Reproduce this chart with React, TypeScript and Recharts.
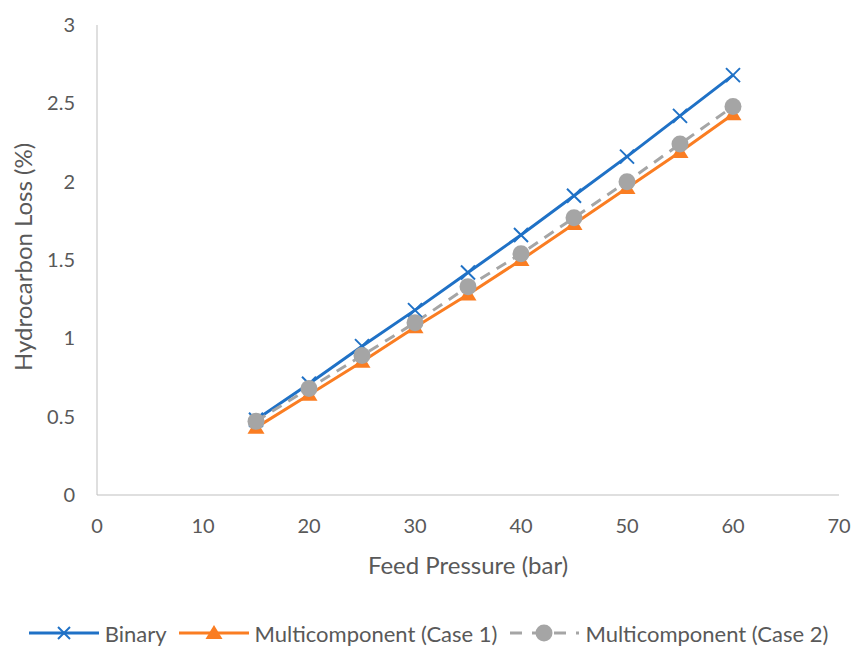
import React from 'react';
import { LineChart, Line, XAxis, YAxis, Legend } from 'recharts';

// Feed pressure (bar) at which each case was evaluated
const pressure = [15, 20, 25, 30, 35, 40, 45, 50, 55, 60];

// Hydrocarbon loss (%) per case
const binary = [0.48, 0.71, 0.95, 1.18, 1.42, 1.66, 1.91, 2.16, 2.42, 2.68];
const case1 = [0.43, 0.64, 0.85, 1.07, 1.28, 1.5, 1.73, 1.96, 2.19, 2.43];
const case2 = [0.47, 0.68, 0.89, 1.1, 1.33, 1.54, 1.77, 2.0, 2.24, 2.48];

const xTicks = [0, 10, 20, 30, 40, 50, 60, 70];
const yTicks = [0, 0.5, 1, 1.5, 2, 2.5, 3];

const seriesNames = ['Binary', 'Multicomponent (Case 1)', 'Multicomponent (Case 2)'];
const xTitle = 'Feed Pressure (bar)';
const yTitle = 'Hydrocarbon Loss (%)';

const BLUE = '#1F71C6';
const ORANGE = '#FA7D22';
const GREY = '#A5A5A5';
const TEXT = '#595959';
const AXIS = '#BFBFBF';
const FONT = 'Lato, "Open Sans", sans-serif';

const data = pressure.map((p, i) => ({
  pressure: p,
  binary: binary[i],
  case1: case1[i],
  case2: case2[i],
}));

const CrossMark = ({ cx, cy, size = 7 }: any) => (
  <g stroke={BLUE} strokeWidth={2}>
    <line x1={cx - size} y1={cy - size} x2={cx + size} y2={cy + size} />
    <line x1={cx - size} y1={cy + size} x2={cx + size} y2={cy - size} />
  </g>
);

const TriangleMark = ({ cx, cy }: any) => (
  <polygon
    points={`${cx},${cy - 8} ${cx + 8.5},${cy + 6} ${cx - 8.5},${cy + 6}`}
    fill={ORANGE}
  />
);

const CircleMark = ({ cx, cy }: any) => <circle cx={cx} cy={cy} r={8.5} fill={GREY} />;

const renderCross = (props: any) =>
  props.cx == null ? null : <CrossMark key={`b-${props.index}`} cx={props.cx} cy={props.cy} />;
const renderTriangle = (props: any) =>
  props.cx == null ? null : <TriangleMark key={`c1-${props.index}`} cx={props.cx} cy={props.cy} />;
const renderCircle = (props: any) =>
  props.cx == null ? null : <CircleMark key={`c2-${props.index}`} cx={props.cx} cy={props.cy} />;

const LegendIcon = ({ kind }: { kind: number }) => (
  <svg width={70} height={22} style={{ display: 'block' }}>
    {kind === 0 && (
      <>
        <line x1={0} y1={11} x2={70} y2={11} stroke={BLUE} strokeWidth={3} />
        <CrossMark cx={35} cy={11} size={6} />
      </>
    )}
    {kind === 1 && (
      <>
        <line x1={0} y1={11} x2={70} y2={11} stroke={ORANGE} strokeWidth={3} />
        <TriangleMark cx={35} cy={11} />
      </>
    )}
    {kind === 2 && (
      <>
        <line x1={0} y1={11} x2={70} y2={11} stroke={GREY} strokeWidth={3} strokeDasharray="12 10" strokeDashoffset={-1} />
        <CircleMark cx={35} cy={11} />
      </>
    )}
  </svg>
);

const LegendContent = () => (
  <div
    style={{
      display: 'flex',
      justifyContent: 'center',
      alignItems: 'center',
      height: 30,
      fontFamily: FONT,
      fontSize: 22,
      color: TEXT,
      paddingLeft: 6,
    }}
  >
    {seriesNames.map((name, i) => (
      <div key={name} style={{ display: 'flex', alignItems: 'center', marginRight: i < 2 ? 12 : 0 }}>
        <LegendIcon kind={i} />
        <span style={{ marginLeft: 6 }}>{name}</span>
      </div>
    ))}
  </div>
);

const XTitle = ({ viewBox }: any) => {
  const { x, y, width } = viewBox;
  return (
    <text x={x + width / 2} y={y + 79} textAnchor="middle" fill={TEXT} fontFamily={FONT} fontSize={24}>
      {xTitle}
    </text>
  );
};

const YTitle = ({ viewBox }: any) => {
  const { y, height } = viewBox;
  const cx = 32;
  const cy = y + height / 2 - 3;
  return (
    <text
      x={cx}
      y={cy}
      transform={`rotate(-90, ${cx}, ${cy})`}
      textAnchor="middle"
      fill={TEXT}
      fontFamily={FONT}
      fontSize={24}
    >
      {yTitle}
    </text>
  );
};

export default function App() {
  const tickStyle = { fill: TEXT, fontFamily: FONT, fontSize: 20 };
  return (
    <div style={{ position: 'absolute', left: 0, top: 0, width: 851, height: 648, background: '#fff' }}>
      <LineChart
        width={851}
        height={648}
        data={data}
        margin={{ top: 25, right: 12, left: 0, bottom: 33 }}
      >
        <XAxis
          dataKey="pressure"
          type="number"
          domain={[0, 70]}
          ticks={xTicks}
          interval={0}
          height={90}
          stroke={AXIS}
          tickLine={false}
          tickSize={0}
          tickMargin={24}
          tick={tickStyle}
          label={<XTitle />}
        />
        <YAxis
          type="number"
          domain={[0, 3]}
          ticks={yTicks}
          interval={0}
          width={97}
          stroke={AXIS}
          tickLine={false}
          tickSize={0}
          tickMargin={22}
          tick={tickStyle}
          label={<YTitle />}
        />
        <Legend verticalAlign="bottom" content={<LegendContent />} wrapperStyle={{ left: 0, width: 851, bottom: 0 }} />
        <Line
          dataKey="binary"
          name={seriesNames[0]}
          stroke={BLUE}
          strokeWidth={3}
          dot={renderCross}
          activeDot={false}
          isAnimationActive={false}
        />
        <Line
          dataKey="case1"
          name={seriesNames[1]}
          stroke={ORANGE}
          strokeWidth={3}
          dot={renderTriangle}
          activeDot={false}
          isAnimationActive={false}
        />
        <Line
          dataKey="case2"
          name={seriesNames[2]}
          stroke={GREY}
          strokeWidth={3}
          strokeDasharray="11 8"
          dot={renderCircle}
          activeDot={false}
          isAnimationActive={false}
        />
      </LineChart>
    </div>
  );
}
